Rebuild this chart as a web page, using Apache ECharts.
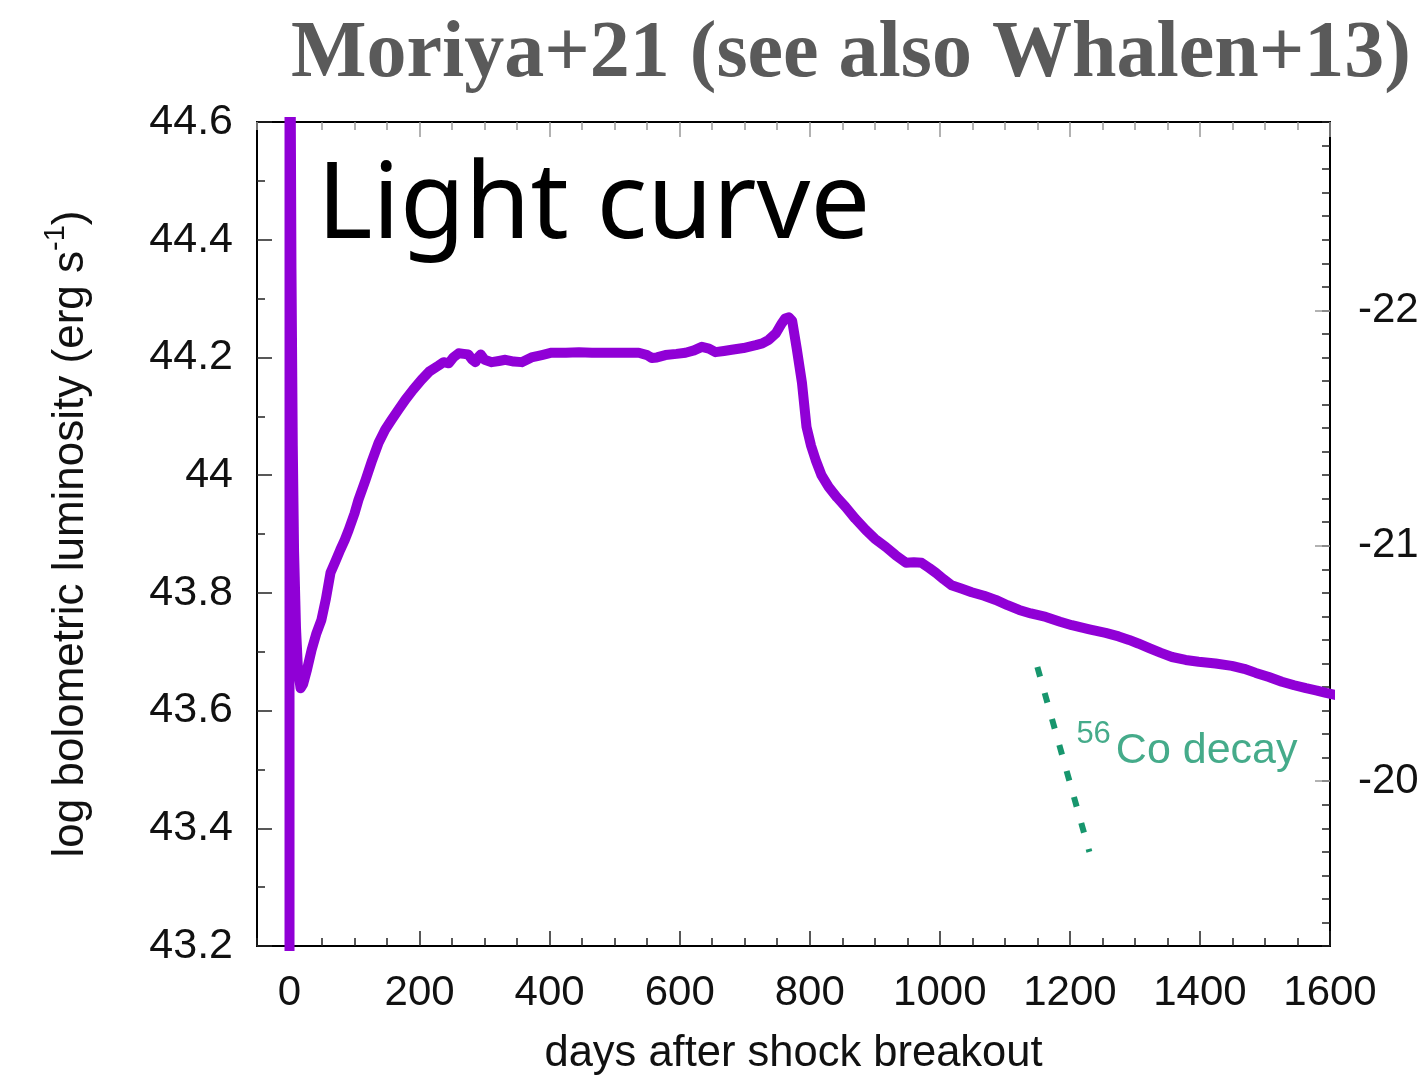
<!DOCTYPE html>
<html>
<head>
<meta charset="utf-8">
<script src="https://cdn.jsdelivr.net/npm/echarts@6/dist/echarts.min.js"></script>
<style>
  html, body { margin: 0; padding: 0; background: #fff; }
  #chart { width: 1420px; height: 1079px; }
</style>
</head>
<body>
<div id="chart"></div>
<script>
// Bolometric light curve (days after shock breakout vs log L)
const days = [0, 0, 1, 2, 3, 5, 7, 10, 13, 17, 21, 27, 34, 41, 49, 56, 63, 70, 78, 85,
  91, 100, 106, 117, 127, 137, 147, 157, 168, 178, 190, 203, 215, 229, 237, 245, 252, 260, 268, 275,
  281, 286, 290, 294, 300, 311, 322, 332, 345, 357, 372, 388, 403, 425, 445, 465, 486, 510, 537, 550,
  557, 565, 578, 595, 609, 622, 634, 645, 655, 668, 680, 698, 717, 727, 737, 748, 757, 762, 768, 773,
  780, 788, 795, 802, 809, 818, 829, 842, 855, 870, 886, 900, 917, 932, 948, 960, 972, 984, 994, 1006,
  1018, 1034, 1049, 1068, 1086, 1104, 1122, 1140, 1163, 1185, 1203, 1230, 1255, 1275, 1291, 1305, 1322, 1340, 1357, 1378,
  1398, 1424, 1449, 1468, 1486, 1506, 1526, 1545, 1563, 1580, 1594, 1610];
const logL = [42.6, 45.4, 45.0, 44.6, 44.35, 44.05, 43.87, 43.74, 43.67, 43.638, 43.645, 43.67, 43.703, 43.73, 43.754, 43.79, 43.834, 43.852, 43.873, 43.89,
  43.907, 43.935, 43.958, 43.992, 44.025, 44.055, 44.077, 44.094, 44.112, 44.128, 44.145, 44.162, 44.176, 44.186, 44.192, 44.19, 44.2, 44.207, 44.206, 44.205,
  44.196, 44.192, 44.2, 44.205, 44.196, 44.192, 44.194, 44.196, 44.193, 44.192, 44.2, 44.204, 44.208, 44.208, 44.209, 44.208, 44.208, 44.208, 44.208, 44.204,
  44.199, 44.2, 44.204, 44.206, 44.208, 44.212, 44.218, 44.215, 44.209, 44.211, 44.213, 44.216, 44.221, 44.224, 44.23, 44.241, 44.258, 44.266, 44.268, 44.262,
  44.215, 44.157, 44.082, 44.05, 44.026, 44.0, 43.98, 43.962, 43.946, 43.926, 43.907, 43.892, 43.878, 43.864, 43.851, 43.852, 43.851, 43.842, 43.834, 43.823,
  43.813, 43.807, 43.801, 43.795, 43.788, 43.779, 43.771, 43.765, 43.759, 43.751, 43.745, 43.738, 43.732, 43.726, 43.72, 43.714, 43.706, 43.698, 43.691, 43.686,
  43.683, 43.68, 43.676, 43.671, 43.664, 43.657, 43.649, 43.643, 43.638, 43.634, 43.63, 43.626];

// 56Co decay slope segment
const coDays = [1150, 1230];
const coLogL = [43.674, 43.360];
const coLabelAt = [1210, 43.540];

// Axis ranges and labelled ticks
const dayRange = [-50, 1600];
const dayTicks = [0, 200, 400, 600, 800, 1000, 1200, 1400, 1600];
const logLRange = [43.2, 44.6];
const magTicks = [-22, -21, -20];
// M_bol = MBOL_ZERO - 2.5 log L
const MBOL_ZERO = 88.7;
const magRange = [MBOL_ZERO - 2.5 * logLRange[1], MBOL_ZERO - 2.5 * logLRange[0]].map(v => Math.round(v * 10) / 10);

const FONT = "'Liberation Sans', Arial, Helvetica, sans-serif";
const BLACK = '#111';
const PURPLE = '#9000D6';
const GREEN = '#17966d';

const curve = days.map((d, i) => [d, logL[i]]);
const coLine = coDays.map((d, i) => [d, coLogL[i]]);

const hiddenLabel = { show: false };
const noLine = { show: false, onZero: false };
const frameLine = { show: true, onZero: false, lineStyle: { color: '#000', width: 2 } };
const tickStyle = { color: '#222', width: 1.5 };

const chart = echarts.init(document.getElementById('chart'), null, { renderer: 'canvas' });
chart.setOption({
  animation: false,
  backgroundColor: '#fff',
  title: [
    {
      text: 'Moriya+21 (see also Whalen+13)',
      left: 286, top: 10,
      textStyle: { fontFamily: "'Liberation Serif', 'Times New Roman', serif", fontWeight: 'bold', fontSize: 80, color: '#5a5a5a' }
    },
    {
      text: 'Light curve',
      left: 312, top: 150,
      textStyle: { fontFamily: "'Noto Sans', sans-serif", fontWeight: 'normal', fontSize: 106, color: '#000' }
    }
  ],
  grid: {
    left: 257, right: 90, top: 122, bottom: 133,
    containLabel: false, outerBoundsMode: 'none',
    show: true, borderColor: '#000', borderWidth: 2, backgroundColor: 'transparent'
  },
  xAxis: [
    { // ticks every 50 days
      type: 'value', position: 'bottom', min: dayRange[0], max: dayRange[1], interval: 50,
      axisLine: frameLine, axisLabel: hiddenLabel, splitLine: noLine,
      axisTick: { inside: true, length: 8, lineStyle: tickStyle }
    },
    { // labelled ticks
      type: 'value', position: 'bottom', min: dayRange[0], max: dayRange[1], interval: 50,
      axisLine: noLine, splitLine: noLine,
      axisTick: { inside: true, length: 15, customValues: dayTicks, lineStyle: tickStyle },
      axisLabel: {
        margin: 26, fontSize: 42, fontFamily: FONT, color: BLACK, customValues: dayTicks,
        formatter: v => String(v)
      },
      name: 'days after shock breakout', nameLocation: 'middle', nameGap: 86,
      nameTextStyle: { fontSize: 43.5, fontFamily: FONT, color: BLACK }
    },
    { // mirrored ticks on the top edge
      type: 'value', position: 'top', min: dayRange[0], max: dayRange[1], interval: 50,
      axisLine: noLine, axisLabel: hiddenLabel, splitLine: noLine,
      axisTick: { inside: true, length: 8, lineStyle: { color: '#999', width: 1.5 } }
    },
    {
      type: 'value', position: 'top', min: dayRange[0], max: dayRange[1], interval: 50,
      axisLine: noLine, axisLabel: hiddenLabel, splitLine: noLine,
      axisTick: { inside: true, length: 15, customValues: dayTicks, lineStyle: { color: '#999', width: 1.5 } }
    }
  ],
  yAxis: [
    {
      type: 'value', position: 'left', min: logLRange[0], max: logLRange[1], interval: 0.2,
      axisLine: frameLine, splitLine: noLine,
      axisTick: { inside: true, length: 15, lineStyle: tickStyle },
      minorTick: { show: true, splitNumber: 2, length: 8, lineStyle: tickStyle },
      axisLabel: {
        margin: 24, fontSize: 43, fontFamily: FONT, color: BLACK,
        formatter: v => String(+v.toFixed(1))
      },
      name: '{n|log bolometric luminosity (erg s}{sup|-1}{n|)}',
      nameLocation: 'middle', nameGap: 164,
      nameTextStyle: {
        fontSize: 44, fontFamily: FONT, color: BLACK,
        rich: {
          n: { fontSize: 44, fontFamily: FONT, color: BLACK, lineHeight: 52, verticalAlign: 'bottom' },
          sup: { fontSize: 29, fontFamily: FONT, color: BLACK, lineHeight: 30, verticalAlign: 'top' }
        }
      }
    },
    { // magnitude scale, ticks every 0.1 mag
      type: 'value', position: 'right', inverse: true, min: magRange[0], max: magRange[1], interval: 0.1,
      axisLine: frameLine, axisLabel: hiddenLabel, splitLine: noLine,
      axisTick: { inside: true, length: 8, lineStyle: tickStyle }
    },
    { // magnitude scale, whole magnitudes
      type: 'value', position: 'right', inverse: true, min: magRange[0], max: magRange[1], interval: 0.1,
      axisLine: noLine, splitLine: noLine,
      axisTick: { inside: true, length: 15, customValues: magTicks, lineStyle: { color: '#999', width: 1.5 } },
      axisLabel: {
        margin: 28, fontSize: 42, fontFamily: FONT, color: BLACK, customValues: magTicks,
        formatter: v => String(v)
      }
    }
  ],
  series: [
    {
      name: 'light curve', type: 'line', xAxisIndex: 1, yAxisIndex: 0,
      data: curve, showSymbol: false, clip: true, smooth: false,
      lineStyle: { color: PURPLE, width: 10, join: 'round', cap: 'round' },
      z: 3
    },
    {
      name: '56Co decay', type: 'line', xAxisIndex: 1, yAxisIndex: 0,
      data: coLine, showSymbol: false, clip: true,
      lineStyle: { color: GREEN, width: 6, type: [10, 17] },
      z: 2
    },
    {
      name: 'label', type: 'scatter', xAxisIndex: 1, yAxisIndex: 0,
      data: [coLabelAt], symbolSize: 0, silent: true,
      label: {
        show: true, position: 'right', distance: 0,
        formatter: '{s|56}{t|Co decay}',
        rich: {
          s: { fontSize: 31, fontFamily: FONT, color: GREEN, lineHeight: 30, verticalAlign: 'top' },
          t: { fontSize: 43, fontFamily: FONT, color: GREEN, lineHeight: 54, verticalAlign: 'bottom', padding: [0, 0, 0, 5] }
        }
      }
    }
  ]
});
</script>
</body>
</html>
